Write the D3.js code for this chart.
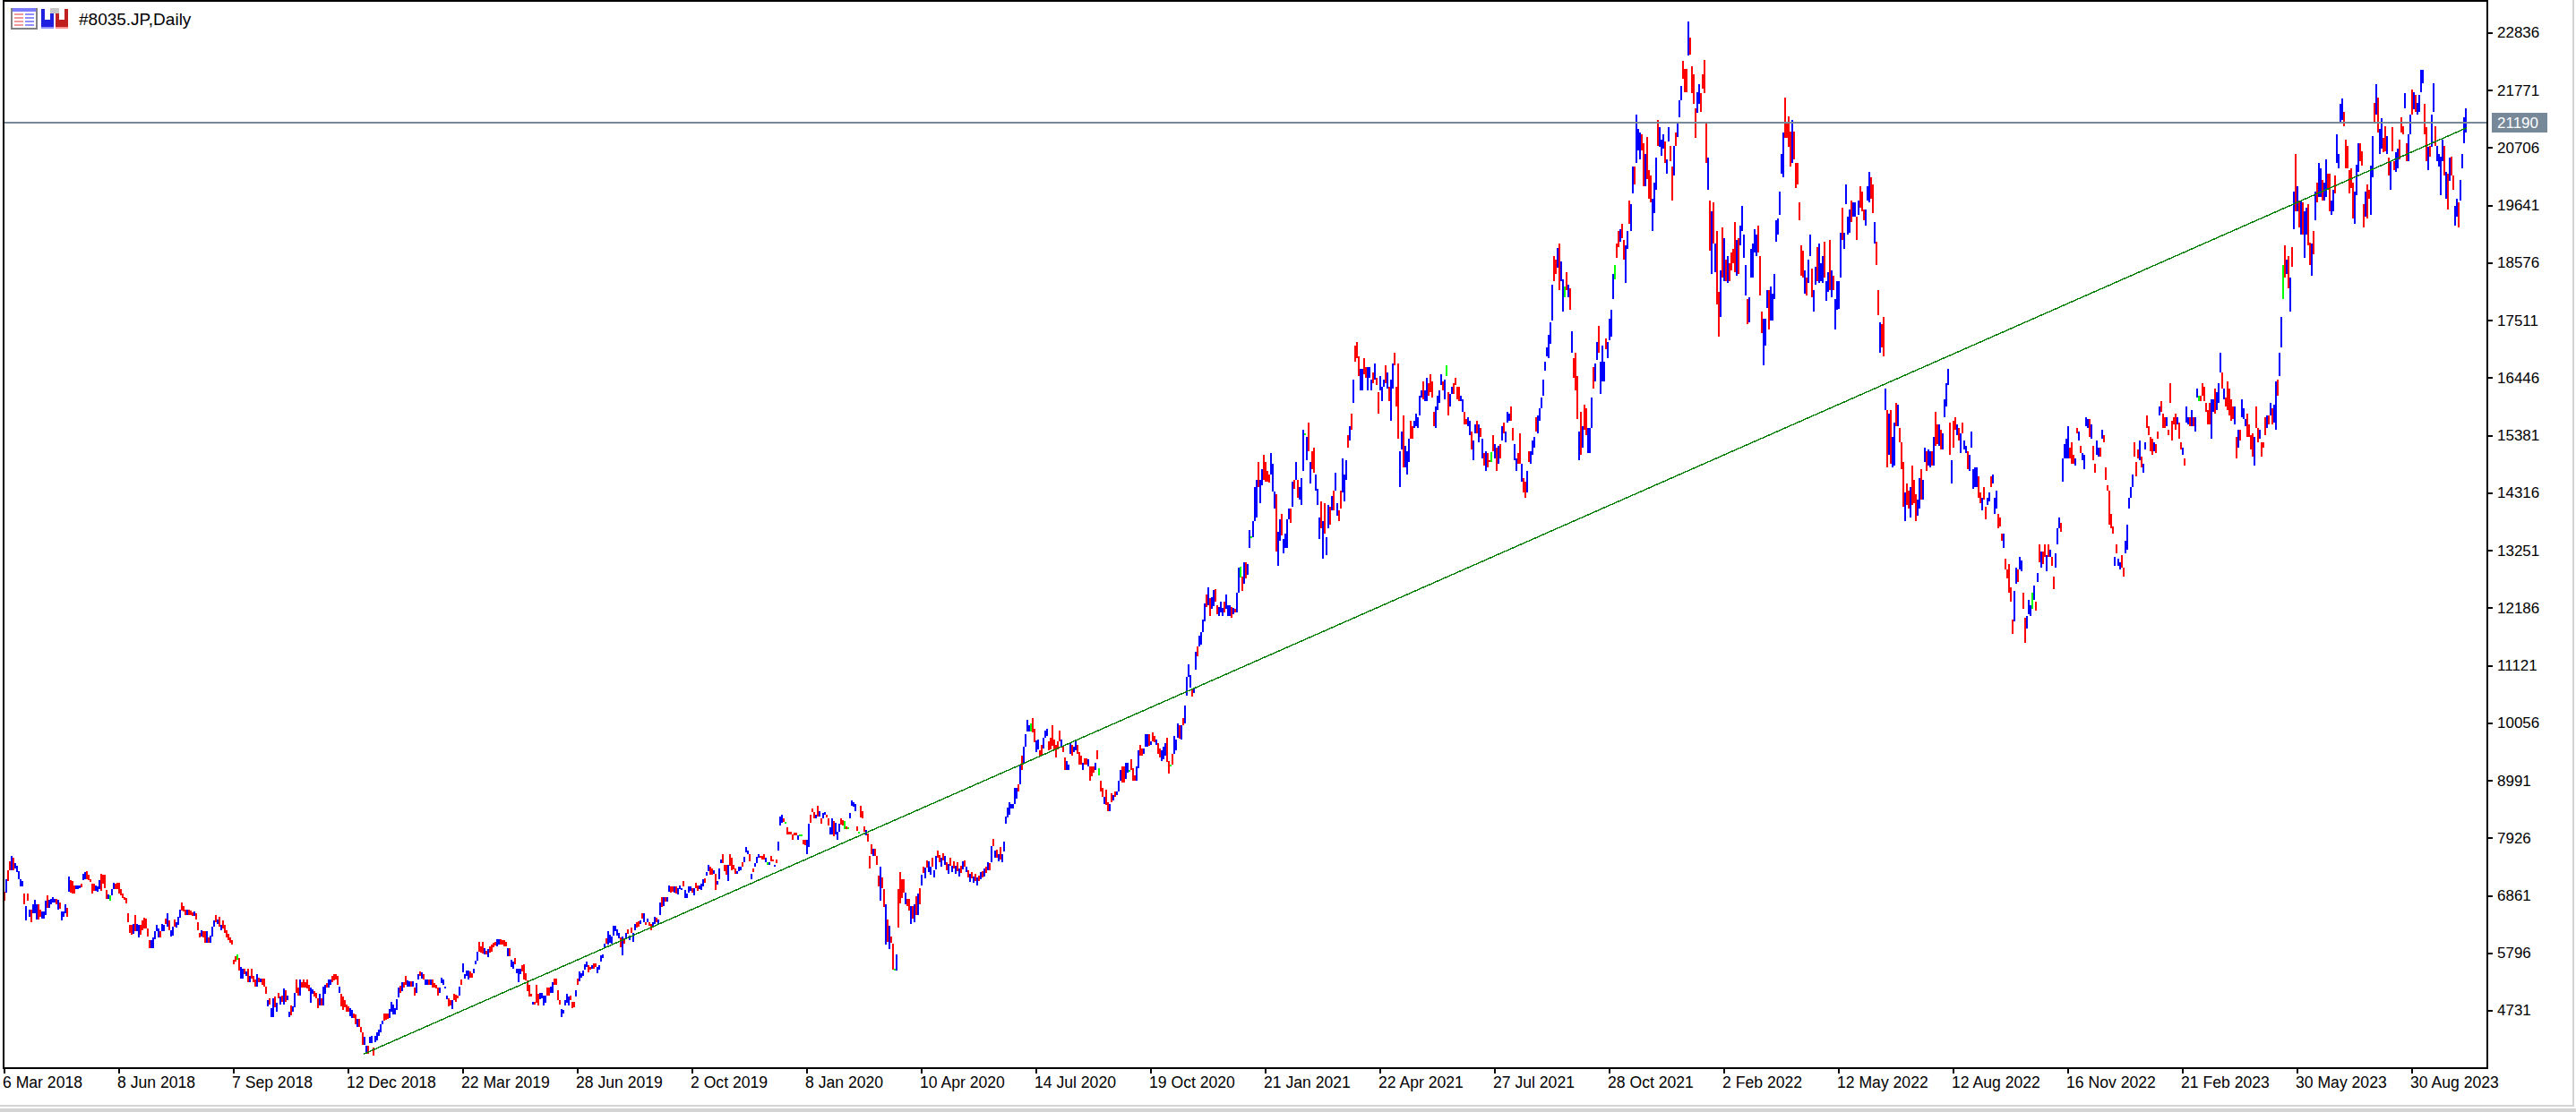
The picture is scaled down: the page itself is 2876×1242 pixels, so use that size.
<!DOCTYPE html>
<html>
<head>
<meta charset="utf-8">
<title>#8035.JP,Daily</title>
<script src="https://cdnjs.cloudflare.com/ajax/libs/d3/7.8.5/d3.min.js"></script>
<style>
html,body{margin:0;padding:0;background:#fff;overflow:hidden}
svg{display:block}
text{font-family:"Liberation Sans",Arial,sans-serif;font-size:17px;fill:#000}
</style>
</head>
<body>
<svg id="chart" width="2876" height="1242"></svg>
<script>
// Daily candle bodies as open,close pairs, one list per 64-session block.
const b2018a=[6930,6770,6920,7170,7340,7140,7500,7340,7340,7600,7560,7340,7365,7465,7300,7410,
7170,7310,7030,7170,7030,7140,6895,6700,6400,6675,6895,6770,6480,6600,6600,6370,
6535,6700,6535,6785,6415,6700,6700,6415,6600,6470,6435,6565,6435,6565,6510,6770,
6870,6635,6635,6785,6700,6810,6730,6840,6730,6810,6800,6700,6600,6785,6730,6620,
6400,6565,6480,6565,6535,6700,6635,6470,6935,7225,7155,6925,7140,6910,7060,6910,
6980,7060,6990,7060,7005,7060,7090,7020,7145,7265,7170,7300,7325,7170,7255,7155,
7170,7115,7090,6910,7080,6950,6950,7045,6935,7030,6980,7145,7265,6950,7245,7090,
7245,7005,6965,6810,6810,6880,6870,6770,6870,6980,6990,7100,7090,6990,7100,6980];
const b2018b=[7100,6910,6980,6870,6895,6825,6840,6785,6825,6715,6535,6370,6325,6175,6315,6140,
6150,6340,6510,6205,6205,6340,6085,6325,6315,6140,6400,6230,6455,6260,6435,6260,
6260,6105,6040,5885,5885,6040,5885,6095,6050,6205,6205,6325,6095,6260,6205,6085,
6205,6340,6205,6325,6435,6340,6290,6535,6400,6230,6105,6230,6120,6290,6415,6290,
6270,6370,6315,6470,6455,6600,6730,6580,6675,6565,6600,6510,6510,6600,6600,6510,
6580,6510,6550,6490,6490,6565,6535,6415,6370,6230,6175,6085,6105,6215,6205,6095,
6205,5995,5985,6205,6085,5995,5985,6120,6105,6290,6290,6400,6510,6370,6340,6425,
6480,6290,6230,6315,6400,6260,6315,6175,6230,6085,6150,6040,6085,5985,6040,5960];
const b2018c=[5680,5585,5735,5650,5775,5680,5705,5485,5320,5540,5320,5515,5515,5405,5375,5460,
5515,5265,5265,5385,5515,5320,5375,5265,5310,5185,5185,5405,5350,5265,5255,5320,
5330,5210,5330,5185,5185,5045,4815,4935,4960,4850,4615,4780,4615,4960,4990,4795,
4715,4880,5070,4960,4850,5000,5015,4905,4850,5145,5110,4905,4935,5015,4615,4715,
4835,4645,4715,4815,4795,5070,5310,5070,5155,5015,5015,5310,5265,5155,5310,5155,
5265,5155,5310,5145,5210,5100,4880,5155,5045,5125,5100,4990,5070,4960,4960,4780,
4835,5045,4960,4835,4835,5185,5045,5210,5240,5155,5155,5310,5210,5310,5375,5265,
5405,5295,5405,5310,5375,5210,5070,5185,5045,4815,4990,4740,4935,4795,4850,4715];
const b2018d=[4815,4715,4630,4780,4605,4740,4685,4605,4660,4480,4435,4590,4575,4425,4435,4325,
4325,4105,4095,4245,3930,4080,4080,3930,4135,4245,4135,4270,4050,3895,4150,4270,
4190,4325,4270,4380,4325,4490,4480,4550,4685,4550,4685,4560,4685,4575,4605,4770,
4715,4905,4660,4850,4660,4780,4740,4945,4980,5155,5200,5070,5100,5265,5265,5155,
5375,5220,5185,5295,5185,5275,5275,5185,5185,5275,5155,5015,5070,5240,5310,5405,
5460,5375,5320,5440,5405,5310,5210,5310,5210,5310,5310,5210,5220,5310,5310,5155,
5240,5155,5220,5145,5155,5015,5070,5155,5240,5350,5210,5310,5145,5185,4945,5015,
4960,4815,4935,4825,4760,4935,5045,4935,5035,4905,5015,4960,5015,5185,5310,5210];
const b2019a=[5440,5610,5320,5405,5375,5475,5310,5475,5460,5350,5430,5350,5430,5515,5585,5665,
5665,5830,6010,5830,5930,5805,6010,5790,5775,5885,5845,5775,5720,5875,5930,5805,
5955,5820,5985,5900,6010,5940,5930,6065,5955,6065,6065,5955,6040,5955,6040,5930,
6010,5920,5750,5885,5885,5735,5540,5680,5515,5650,5705,5595,5430,5515,5255,5515,
5405,5515,5570,5460,5595,5310,5430,5295,5295,5100,5210,4990,5045,4990,4850,4905,
4905,4850,5210,4880,5045,4825,4950,5070,4960,5070,4825,5015,4880,5015,5155,5015,
5165,5015,5070,5185,5070,5265,5330,5210,5330,5220,5110,4935,4935,4850,4615,4770,
4685,4740,4825,4935,4880,5045,4835,4990,5015,4935,4905,4780,4905,4795,4990,5110];
const b2019b=[5335,5215,5280,5460,5350,5435,5380,5480,5490,5600,5545,5645,5575,5445,5545,5490,
5515,5575,5610,5515,5610,5545,5425,5545,5490,5575,5645,5765,5710,5775,5905,5975,
6070,5975,5960,6205,5985,6140,5975,6105,6125,6305,6205,6305,6125,6235,6070,6180,
6095,5905,5755,6105,6070,5975,6070,6180,6235,6150,6040,6125,6275,6180,6015,6180,
6220,6345,6370,6275,6385,6290,6345,6400,6540,6440,6370,6540,6370,6320,6370,6440,
6370,6305,6345,6220,6290,6370,6345,6470,6455,6370,6320,6430,6510,6730,6835,6650,
6675,6835,6835,6760,6750,6835,6935,7060,7035,6925,7035,6935,6925,7035,7035,6900,
6880,7005,6980,7060,6970,7005,7135,7035,6815,6970,6815,6900,6925,7035,6960,7040];
const b2019c=[7005,6915,6870,7005,7100,7005,7060,6950,6980,7060,6970,7090,7035,7175,7190,7100,
7230,7300,7310,7435,7395,7245,7365,7245,7265,7340,7265,6970,7065,7135,7175,7365,
7465,7530,7630,7465,7435,7310,7435,7245,7135,7435,7630,7420,7560,7340,7435,7355,
7365,7265,7265,7310,7310,7395,7340,7395,7490,7395,7475,7585,7670,7765,7630,7700,
7630,7505,7175,7265,7365,7300,7405,7465,7465,7585,7560,7630,7600,7560,7600,7530,
7630,7530,7475,7560,7490,7435,7435,7490,7600,7505,7530,7500,7405,7435,7530,7465,
7700,7865,8165,8335,8205,8360,8290,8235,8235,8200,8130,8000,8055,8000,8055,8000,
8000,7900,8030,7975,8030,7975,7900,7985,7990,7970,7990,7970,7890,7810,7890,7800];
const b2019d=[7630,7890,7765,8195,8360,8220,8480,8405,8415,8295,8295,8360,8525,8335,8335,8425,
8295,8195,8295,8390,8360,8415,8360,8305,8295,8165,8000,8130,8000,8295,8250,7965,
8000,8220,7895,8055,8055,8195,8295,8185,8260,8165,8250,8095,8150,8095,8130,8095,
8295,8390,8535,8625,8515,8590,8425,8555,8150,8070,8055,8035,8525,8315,8425,8295,
8150,8055,7985,8085,8020,7865,7600,7365,7820,7630,7600,7725,7725,7600,7600,7435,
7230,7035,6770,7395,7200,7005,6990,6650,5960,6705,6430,6015,5875,6305,6105,5985,
5975,5500,5510,5485,5485,5775,6990,6275,7300,6715,7175,6815,7175,6925,6705,6925,
6805,6675,6805,6585,6345,6675,6675,6440,6380,6700,6850,6500,6500,6900,7000,6700];
const b2020a=[7050,7250,7400,7280,7180,7380,7520,7380,7300,7500,7250,7400,7560,7400,7200,7340,
7350,7600,7700,7560,7620,7480,7400,7560,7650,7520,7430,7600,7480,7330,7260,7450,
7560,7420,7300,7420,7500,7360,7260,7420,7480,7320,7220,7360,7420,7280,7350,7500,
7520,7400,7300,7400,7340,7200,7120,7260,7300,7180,7100,7220,7260,7140,7060,7200,
7240,7140,7160,7300,7320,7200,7220,7360,7400,7280,7340,7480,7460,7340,7480,7780,
7920,7780,7560,7700,7720,7560,7500,7640,7760,7540,7480,7640,7680,7860,8200,8335,
8310,8500,8365,8595,8475,8555,8475,8555,8555,8860,8665,8860,8925,8795,8925,9275,
9455,9190,9300,9620,9620,9855,9900,10120,9900,10020,9910,10045,10150,9885,9950,9700];
const b2020b=[9525,9735,9580,9755,9555,9455,9655,9455,9590,9790,9790,9920,9820,9950,9720,9550,
9790,9580,10020,9635,9755,9580,9655,9425,9720,9580,9920,9715,9620,9755,9620,9525,
9425,9190,9190,9355,9190,9290,9495,9690,9655,9455,9525,9620,9550,9745,9655,9495,
9525,9290,9455,9290,9190,9330,9410,9290,9410,9290,9260,9390,9260,9000,9260,9070,
9260,9135,9190,9325,9555,9390,9225,9090,8990,8795,8860,8695,8560,8695,8825,8540,
8595,8430,8430,8560,8760,8595,8630,8730,8795,8695,8730,8795,8795,8990,8990,9190,
9260,8960,9260,8960,9025,9325,9145,9325,9190,9170,9390,9190,9225,8990,9090,8990,
8990,9260,9225,9555,9655,9455,9590,9455,9490,9590,9620,9855,9620,9855,9855,9635];
const b2020c=[9655,9720,9885,9720,9820,9710,9655,9755,9690,9490,9590,9425,9355,9555,9390,9620,
9455,9690,9790,9335,9355,9125,9290,9260,9490,9290,9490,9820,9555,9755,9790,10050,
10020,9770,9755,10020,10150,10020,10050,10385,10560,10915,10915,11145,10715,10945,10680,10550,
10615,10715,11045,11375,11475,11290,11475,11675,11510,11740,11740,11975,11940,12270,12435,12205,
12240,12570,12370,12040,12170,12395,12225,12530,12535,12305,12240,12075,12040,12205,12115,12305,
12040,12200,12305,12105,12170,12435,12040,12240,12040,12240,12205,12005,12075,12200,12170,12105,
12105,12470,12470,12935,12960,12755,12770,12510,12645,13030,13030,12740,12810,13005,13300,13635,
13520,13505,13500,13800,13800,14430,13865,14560,14890,14430,14130,14560,14460,14760,15025,14560];
const b2020d=[14890,14530,14725,14530,14660,14505,14660,15060,14355,14855,14025,14355,14295,13235,12970,13600,
13435,13835,13930,13535,13205,13470,13300,13570,13300,13835,13835,14025,14025,13765,14065,14530,
14560,14395,14560,14890,14560,14230,14195,14430,14100,14595,14725,15490,15420,15395,14925,15355,
15620,15090,14495,14890,15090,14760,15160,14695,14365,14660,14095,14395,13470,13865,14165,13665,
13105,13800,14130,13570,13170,13500,13665,14095,14065,13735,13995,14265,14365,13995,14365,14695,
13900,14130,13995,13800,14365,14030,14330,14960,14165,14660,14560,14925,15390,15160,15290,15555,
15785,15490,15985,16415,17045,16745,17110,16815,16845,16480,16215,16615,16215,16615,16815,16515,
16650,16450,16215,16650,16450,16650,16215,16415,16550,16350,16415,16715,16450,16315,16185,15785];
const b2021a=[16215,16480,16020,16285,16285,16415,16680,16350,16250,16550,16285,16020,15655,16415,16250,16715,
16915,16680,16285,15920,16715,15325,14430,15090,15125,15455,15755,14795,14795,15190,14660,15090,
14890,15325,15655,15325,15555,15325,15520,15655,15555,15785,15520,15720,15755,16120,16085,16215,
16380,16050,16020,16215,16020,16450,16350,16120,16515,16185,16380,16085,15820,15555,15520,15920,
15855,16120,15985,16215,16315,16515,16380,16215,16050,16415,16680,16480,16185,15755,15920,16150,
16150,16285,16350,16150,16450,16315,16285,16050,16285,16020,16020,16120,15820,16050,15820,15590,
15690,15590,15555,15720,15390,15655,15455,15125,14925,15290,15420,15590,15655,15420,15255,15590,
15520,15355,14960,15325,15060,14825,14725,15090,15060,14795,14920,14900,14890,15075,15390,15090];
const b2021b=[14960,15225,15160,14725,14860,15190,15225,14960,15290,15555,15620,15420,15255,15455,15620,15820,
15655,15785,15920,15655,15520,15290,14925,15225,14725,14960,15060,14860,15420,14860,14530,14860,
14595,14330,14530,14230,14330,14725,15090,14890,14860,15090,15025,15290,15160,15355,15720,15455,
15420,15755,15655,15885,15885,16085,16120,16415,16580,16745,16845,17010,16815,17245,17080,17475,
17510,18170,18700,18240,18635,18370,18500,18865,18935,18070,18240,18600,17675,18270,18140,17940,
18405,18070,17940,18170,18105,17710,16915,17310,16815,16450,16915,16215,16480,15690,14925,15455,
15820,15025,15160,15555,15950,15490,15885,15390,15060,15520,15060,15520,15520,16085,16650,16250,
16380,16715,16780,17110,17410,16915,16150,16745,16380,17045,16380,16745,17180,16980,16815,17110];
const b2021c=[17145,17540,17210,17710,17905,18370,18280,18540,18935,18670,19170,18870,18970,19200,19300,19035,
19000,18640,18210,18900,18835,19170,19730,19300,19170,19665,19860,20360,20360,20030,20425,21320,
20660,21055,20490,20990,20955,20660,20790,19995,19995,20590,20920,20130,20295,19765,20195,19695,
19170,19765,19500,20060,19930,20525,21220,20755,20725,21090,20560,20855,20690,20955,20825,20425,
20225,20490,20825,21090,20755,20460,20360,19730,20195,20755,20990,20755,20920,21155,21285,21585,
21585,21850,22315,21985,22180,21750,22180,21750,22415,23045,22745,22445,22215,21720,22080,21520,
21450,20890,21355,21750,21520,21885,21720,21385,22080,21815,22345,21720,21190,20425,19930,20525,
19730,18800,18370,19530,19695,18935,18405,18935,19170,17810,18040,17210,17575,18440,19235,18305];
const b2021d=[18240,19035,18640,18250,18205,18705,18570,18240,18770,18440,18835,18570,19335,18405,18340,19000,
19035,18370,18900,19265,19170,19630,18670,19100,17975,18540,17910,17445,17480,17945,18305,18835,
18305,18935,18770,19200,18705,19100,19265,18770,18705,17975,17675,17280,16685,17545,17050,17545,
17745,18075,18075,17345,17510,18140,17510,18010,17910,18370,18970,19365,19100,19400,19465,19895,
20225,20590,20160,20990,21650,20890,21190,20890,21290,20725,21020,20360,20425,21220,21020,20490,
20425,19960,20425,20030,19695,19365,18900,18340,18800,18305,18010,18440,18305,17975,18205,18640,
18705,19100,18470,17945,17675,18075,18175,18505,18870,18240,18205,18935,18240,18570,18205,18705,
18970,18305,17875,18240,18040,18405,19000,18075,17945,18440,18340,18075,17345,17910,17710,18240];
const b2022a=[17725,18240,18305,19135,19600,19000,18835,19135,19665,20030,19100,19430,19135,19565,19730,19335,
19430,19695,19430,19695,19430,19000,19465,19730,19995,19600,19895,19530,19565,19365,19265,19565,
19730,19995,19695,20260,20160,19765,20030,19500,18935,19335,18970,18540,18075,17610,16915,17480,
17445,17015,17575,16850,15850,16250,15850,14790,15025,15785,15850,14860,14790,15355,14825,15620,
15985,15555,15555,15950,15520,15255,15255,14760,14890,14060,13795,14330,14495,14095,14360,14030,
13865,14425,14825,14095,14560,14130,14295,13795,13895,14195,14030,14590,14760,14195,14195,14560,
14890,15155,15090,14725,14825,15120,14790,15090,15090,14825,14825,15355,15820,15190,15585,15220,
15190,15585,15485,15120,15120,15420,15720,16050,15920,16350,16315,16615,15620,15025,14495,14925];
const b2022b=[15650,15155,15720,15485,15385,15585,15520,15290,15055,15420,15620,15420,15120,15290,15055,15190,
15090,14760,14725,15025,15155,15455,14395,14760,14430,14790,14430,14790,14625,14230,14330,14130,
13995,14230,14425,14195,14060,13830,14095,14230,14160,14330,14625,14425,14495,14660,13930,14230,
14030,14360,13930,13665,13865,13700,13565,13435,13300,13565,13100,12905,12905,12740,13000,12475,
12570,12305,11975,11710,11945,12505,12640,12935,12905,12670,12905,13135,12870,13070,12475,12175,
12010,11545,11810,12040,12075,12340,12040,12240,12175,12475,12340,12605,12305,12140,12670,12835,
13365,13035,12935,13235,13235,13000,13365,13135,12870,13170,13365,13135,13135,13265,13135,12970,
12770,12540,12935,13200,13365,13665,13665,13865,13765,13600,14525,14955,14955,15220,14955,15320];
const b2022c=[14955,15555,15155,14955,15255,14860,15025,14860,14825,14955,15520,15420,15290,15455,15190,15055,
14925,15055,14760,15025,15555,15720,15520,15685,15685,15355,15320,15585,15190,14925,14860,14690,
15025,15290,14990,15155,15155,14990,15320,15485,15385,15255,14790,14560,14460,14360,14360,13730,
13930,13665,13700,13565,12970,13135,13365,13200,12970,13100,12905,13035,13170,12935,12935,12770,
13200,13435,13265,13730,14030,14230,14230,14425,14425,14660,15255,14990,14890,14625,15120,14955,
14925,15290,14990,14790,14690,14860,15120,15255,15750,15520,15555,15385,15355,15090,15320,15025,
15090,15255,15220,15055,15455,15320,15750,15915,16015,15820,15785,15520,15720,15520,15555,15720,
15485,15385,16350,15985,15650,15290,15720,15585,15785,15485,15585,15720,15620,15320,15255,15120];
const b2022d=[15025,15155,14955,14825,15620,15915,15585,15720,15720,15555,15555,15850,15720,15555,15455,15720,
16085,16250,16115,16015,16115,16015,16350,16115,16280,16015,15985,15820,15850,15585,15985,15585,
15320,16050,15820,16050,16250,15785,15850,16185,15985,16350,16545,16910,16545,16250,16050,16250,
16085,15915,16380,15850,16250,15750,16050,15650,15915,15685,15585,15915,15355,14955,15155,15485,
15485,15290,15720,16050,15685,15885,15555,15685,15785,15355,15585,15355,15385,15120,15420,14990,
14825,15355,15915,15520,15520,15255,15320,15485,15255,14990,15255,15155,15720,15385,15520,15750,
15750,15585,15750,15985,15885,15585,15620,15950,15485,16380,16415,16115,16485,16915,17015,17575,
17910,18540,18900,18305,18370,18635,18705,18110,17675,18305,18870,18505,19200,19895,20590,19530];
const b2023a=[19530,19995,19730,19235,19100,19730,19695,19100,18670,19530,19100,19600,19665,18900,18960,18540,
18340,18935,19165,18735,19365,19895,20060,19695,19795,20425,19795,20325,20125,19730,19730,20060,
19795,20490,20225,19930,20225,19530,19465,19730,19530,19930,20195,19865,20425,20955,20325,20590,
21155,21520,21220,21620,21385,21120,20855,20325,20755,20325,20295,19865,20325,19960,20060,19400,
19300,19895,19830,20395,20260,20790,20790,20460,20655,20390,19665,19235,19430,19895,20030,19400,
19930,19765,19465,20390,20160,20925,21550,21190,21320,21885,21650,20990,20590,21055,20690,21255,
20890,20625,21120,20655,20590,20925,20525,20195,19930,20460,21090,20655,20460,20295,20260,20625,
20325,20690,20855,20490,21285,20990,21120,20955,21450,21720,20790,20460,20460,20955,20955,21320];
const b2023b=[21785,21320,21420,21750,21685,21385,21320,21550,21385,21685,21750,22150,21915,22150,21520,20955,
21090,20460,20295,20725,20755,20555,20725,21320,21385,21915,21120,20755,20460,20755,20360,20590,
19830,20555,20460,20855,20755,20195,19765,20260,20225,19565,20095,20525,20555,20195,20195,19930,
19265,19630,19430,19765,19695,19235,19730,20125,20325,20590,20790,21285,20990,21450];

const sessionBlocks=[b2018a,b2018b,b2018c,b2018d,b2019a,b2019b,b2019c,b2019d,b2020a,b2020b,b2020c,
  b2020d,b2021a,b2021b,b2021c,b2021d,b2022a,b2022b,b2022c,b2022d,b2023a,b2023b];
// Sessions drawn in the neutral colour.
const neutralSessions=[59,130,426,436,444,445,469,471,477,497,573,611,628,651,690,696,726,805,830,871,899,1132,1225,1272];

const dateLabels=["6 Mar 2018","8 Jun 2018","7 Sep 2018","12 Dec 2018","22 Mar 2019","28 Jun 2019","2 Oct 2019","8 Jan 2020",
  "10 Apr 2020","14 Jul 2020","19 Oct 2020","21 Jan 2021","22 Apr 2021","27 Jul 2021","28 Oct 2021","2 Feb 2022","12 May 2022",
  "12 Aug 2022","16 Nov 2022","21 Feb 2023","30 May 2023","30 Aug 2023"];
const priceTicks=[22836,21771,20706,19641,18576,17511,16446,15381,14316,13251,12186,11121,10056,8991,7926,6861,5796,4731];
const lastPrice=21190;
const trendStart=[201,3930], trendEnd=[1375,21083];
const blockLength=64;

const canvasW=2876,canvasH=1242,plotL=4,plotR=2777,plotT=1,plotB=1193;
const svg=d3.select("#chart");
const x=d3.scaleLinear().domain([0,(plotR-plotL)/2]).range([plotL,plotR]);
const y=d3.scaleLinear().domain([4731,22836]).range([1129,37]);

const bars=sessionBlocks.flatMap((block,q)=>d3.range(block.length/2).map(k=>({
  i:q*blockLength+k,o:block[2*k],c:block[2*k+1]})));
const neutral=new Set(neutralSessions);
const barColor=d=>neutral.has(d.i)?"#00ff00":d.c>d.o?"#0000ff":"#ff0000";

svg.append("g").attr("shape-rendering","crispEdges").selectAll("rect").data(bars).join("rect")
  .attr("x",d=>x(d.i)).attr("width",2)
  .attr("y",d=>y(Math.max(d.o,d.c)))
  .attr("height",d=>Math.max(2,Math.abs(y(d.o)-y(d.c))))
  .attr("fill",barColor);

// Last-price level
svg.append("rect").attr("x",plotL).attr("width",plotR-plotL).attr("height",2)
  .attr("y",Math.round(y(lastPrice))).attr("fill","#778899").attr("shape-rendering","crispEdges");

// Long-term trend line
svg.append("path").attr("d",d3.line().x(d=>x(d[0])).y(d=>y(d[1]))([trendStart,trendEnd]))
  .attr("fill","none").attr("stroke","#008000").attr("stroke-width",1.4).attr("shape-rendering","crispEdges");

// Plot frame
svg.append("rect").attr("x",plotL).attr("y",plotT).attr("width",plotR-plotL).attr("height",plotB-plotT)
  .attr("fill","none").attr("stroke","#000").attr("stroke-width",2).attr("shape-rendering","crispEdges");

// Date axis
const xAxis=d3.axisBottom(x).tickValues(dateLabels.map((_,q)=>q*blockLength))
  .tickFormat((_,q)=>dateLabels[q]).tickSize(6).tickPadding(5).offset(1);
const gx=svg.append("g").attr("transform",`translate(0,${plotB})`).call(xAxis);
gx.select(".domain").remove();
gx.selectAll("line").attr("stroke","#000").attr("stroke-width",2).attr("shape-rendering","crispEdges");
gx.selectAll("text").attr("text-anchor","start").attr("x",-2).attr("y",10).attr("dy","0.71em").style("font-size","17.6px");

// Price axis
const yAxis=d3.axisRight(y).tickValues(priceTicks).tickFormat(d3.format("d")).tickSize(6).tickPadding(4).offset(0);
const gy=svg.append("g").attr("transform",`translate(${plotR},0)`).call(yAxis);
gy.select(".domain").remove();
gy.selectAll("line").attr("stroke","#000").attr("stroke-width",2).attr("shape-rendering","crispEdges");
gy.selectAll("text").attr("x",11);

// Last-price tag
svg.append("rect").attr("x",2782).attr("y",126).attr("width",62).attr("height",22).attr("fill","#778899");
svg.append("text").attr("x",2788).attr("y",137).attr("dy","0.35em").style("fill","#fff").text(lastPrice);

// Title
svg.append("text").attr("x",88).attr("y",21).attr("dy","0.35em").style("font-size","19px").text("#8035.JP,Daily");

// Title-bar icons
const icons=svg.append("g").attr("shape-rendering","crispEdges");
const box=(px,py,w,h,f)=>icons.append("rect").attr("x",px).attr("y",py).attr("width",w).attr("height",h).attr("fill",f);
box(12,9,30,24,"#808080"); box(14,11,26,20,"#fff"); box(14,9,26,4,"#7a7aff");
[15,19,23,27].forEach(v=>{box(16,v,10,2,"#f09a9a"); box(28,v,10,2,"#8f8fff");});
box(46,10,14,22,"#2020e0"); box(50,10,6,12,"#fff"); box(46,30,14,2,"#9090ff");
box(62,10,14,22,"#c02020"); box(66,10,6,12,"#fff"); box(62,30,14,2,"#ff9090");
box(56,9,10,6,"#c8c8c8");

// Window edges
const edge=svg.append("g").attr("fill","#d4d4d4").attr("shape-rendering","crispEdges");
edge.append("rect").attr("x",2872).attr("y",0).attr("width",2).attr("height",1236);
edge.append("rect").attr("x",0).attr("y",1234).attr("width",2874).attr("height",2);
edge.append("rect").attr("x",0).attr("y",1238).attr("width",canvasW).attr("height",canvasH-1238);
</script>
</body>
</html>
